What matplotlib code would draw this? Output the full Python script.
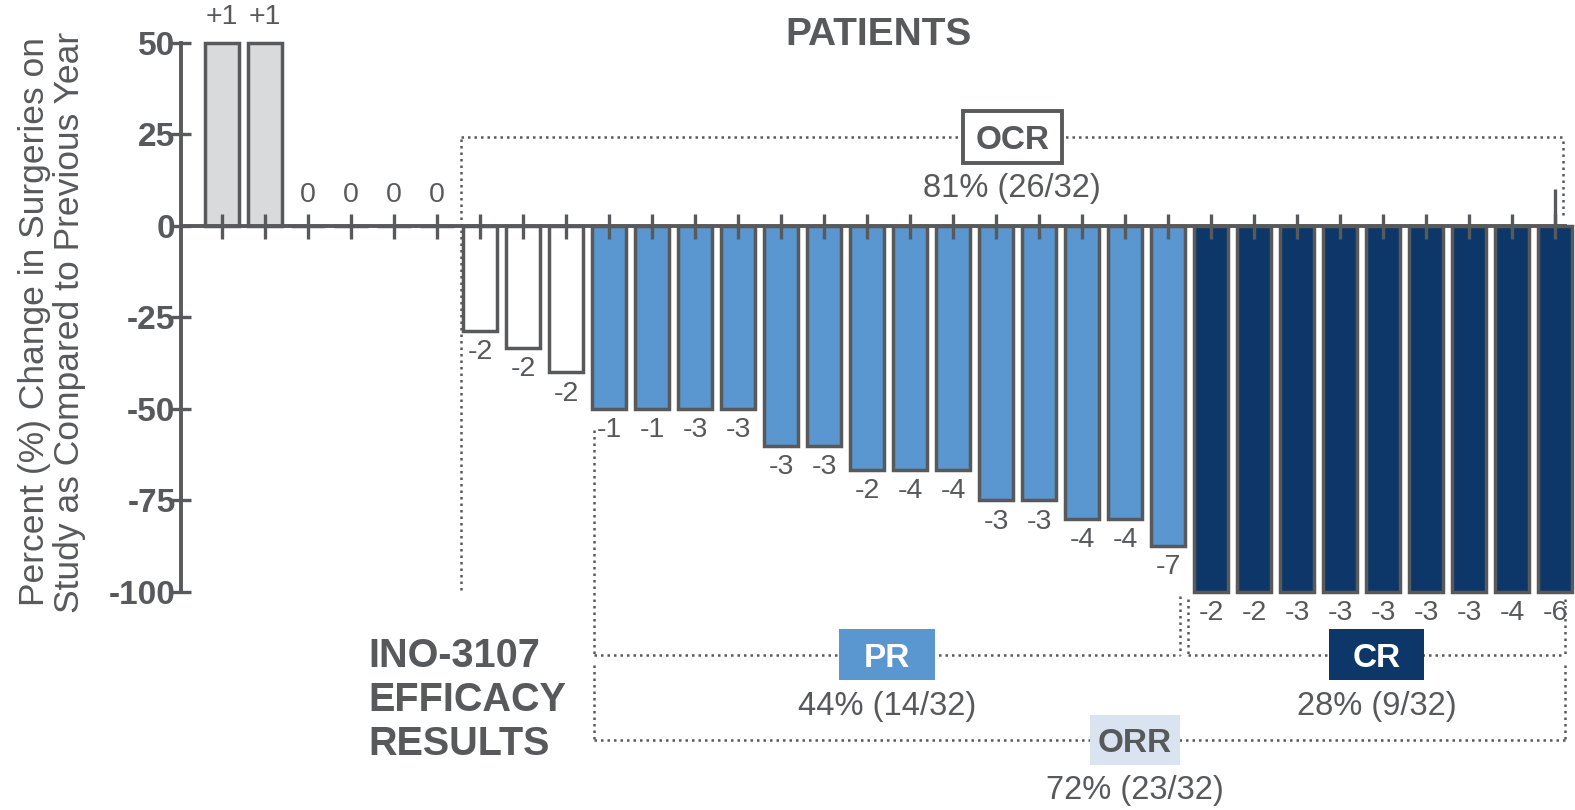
import matplotlib.pyplot as plt
from matplotlib.patches import Rectangle

plt.rcParams['font.family'] = ['Liberation Sans', 'DejaVu Sans']

GREY = '#58595b'

# percent change in surgeries, one bar per patient
pct_change = [50, 50, 0, 0, 0, 0,
              -28.6, -33.3, -40,
              -50, -50, -50, -50, -60, -60, -66.7, -66.7, -66.7,
              -75, -75, -80, -80, -87.5,
              -100, -100, -100, -100, -100, -100, -100, -100, -100]
# absolute change in number of surgeries (bar labels)
surgery_change = ['+1', '+1', '0', '0', '0', '0',
                  '-2', '-2', '-2',
                  '-1', '-1', '-3', '-3', '-3', '-3', '-2', '-4', '-4',
                  '-3', '-3', '-4', '-4', '-7',
                  '-2', '-2', '-3', '-3', '-3', '-3', '-3', '-4', '-6']
response = ['up'] * 2 + ['none'] * 4 + ['stable'] * 3 + ['PR'] * 14 + ['CR'] * 9

fill = {'up': '#d9dadc', 'none': 'white', 'stable': 'white',
        'PR': '#5a96cf', 'CR': '#0d3768'}

y_ticks = [-100, -75, -50, -25, 0, 25, 50]

# response groups: name, first bar, last bar, rate text
groups = ['OCR', 'PR', 'CR', 'ORR']
group_first = [6, 9, 23, 9]
group_last = [31, 22, 31, 31]
group_rate = ['81% (26/32)', '44% (14/32)', '28% (9/32)', '72% (23/32)']

fig = plt.figure(figsize=(15.75, 8.1), dpi=100)
ax = fig.add_axes([0, 0, 1, 1])
ax.set_xlim(-5.16, 31.46)
ax.set_ylim(-159.6, 61.75)

x = list(range(len(pct_change)))
ax.bar(x, pct_change, width=0.78, color=[fill[r] for r in response],
       edgecolor=GREY, linewidth=2.5)

# value labels
for xi, v, lab in zip(x, pct_change, surgery_change):
    if v >= 0:
        ax.annotate(lab, (xi, v), xytext=(0, 9 if v > 0 else 13),
                    textcoords='offset points', ha='center', va='bottom',
                    fontsize=20.5, color=GREY)
    else:
        ax.annotate(lab, (xi, v), xytext=(0, -6), textcoords='offset points',
                    ha='center', va='top', fontsize=20.5, color=GREY)

# axes styling
x_axis_left = -0.95
x_axis_right = 31.23
for s in ['top', 'right']:
    ax.spines[s].set_visible(False)
ax.spines['left'].set_position(('data', x_axis_left))
ax.spines['left'].set_bounds(-100, 50)
ax.spines['bottom'].set_position(('data', 0))
ax.spines['bottom'].set_bounds(x_axis_left, x_axis_right)
for s in ['left', 'bottom']:
    ax.spines[s].set_color(GREY)
    ax.spines[s].set_linewidth(2.8)

ax.set_yticks(y_ticks)
ax.set_yticklabels([str(t) for t in y_ticks], fontweight='bold')
ax.set_xticks(x)
ax.set_xticklabels([])
ax.tick_params(axis='both', direction='inout', width=2.4,
               color=GREY, labelcolor=GREY)
ax.tick_params(axis='x', length=18)
ax.tick_params(axis='y', length=14, labelsize=24, pad=-3)
ax.vlines(x[-1], 0, 10, color=GREY, lw=2.4)

ax.text(15.26, 52.2, 'PATIENTS', ha='center', va='center', fontsize=28,
        fontweight='bold', color=GREY)
ax.text(3.4, -129.5, 'INO-3107\nEFFICACY\nRESULTS', ha='left', va='center',
        fontsize=28.5, fontweight='bold', color=GREY, linespacing=1.2)

fig.text(0.033, 0.6025, 'Percent (%) Change in Surgeries on\n'
         'Study as Compared to Previous Year', rotation=90, ha='center',
         va='center', fontsize=25.5, color=GREY, linespacing=1.1)

# dotted brackets
dot = dict(color=GREY, lw=1.8, linestyle=(0, (1, 1.6)), clip_on=False)
line_y = {'OCR': 24.3, 'PR': -117.2, 'CR': -117.2, 'ORR': -140.4}
left_off = {'OCR': -0.44, 'PR': -0.35, 'CR': -0.53, 'ORR': -0.35}
right_off = {'OCR': 0.19, 'PR': 0.28, 'CR': 0.23, 'ORR': 0.23}
left_end = {'OCR': -99.5, 'PR': -55.7, 'CR': -102, 'ORR': -120}
right_end = {'OCR': 3.0, 'PR': -101, 'CR': -102, 'ORR': -120}
label_frac = {'OCR': 0.5, 'PR': 0.5, 'CR': 0.5, 'ORR': 0.557}
box_w = {'OCR': 2.3, 'PR': 2.23, 'CR': 2.2, 'ORR': 2.1}
box_h = {'OCR': 14.0, 'PR': 13.9, 'CR': 13.9, 'ORR': 13.7}
box_style = {
    'OCR': dict(fc='white', ec=GREY, lw=2.8, tc=GREY),
    'PR': dict(fc='#5a96cf', ec='#5a96cf', lw=0, tc='white'),
    'CR': dict(fc='#0d3768', ec='#0d3768', lw=0, tc='white'),
    'ORR': dict(fc='#dae4f1', ec='#dae4f1', lw=0, tc=GREY),
}

for g, f, l, rate in zip(groups, group_first, group_last, group_rate):
    x0 = f + left_off[g]
    x1 = l + right_off[g]
    y = line_y[g]
    ax.plot([x0, x1], [y, y], **dot)
    ax.plot([x0, x0], [left_end[g], y], **dot)
    ax.plot([x1, x1], [right_end[g], y], **dot)
    xc = x0 + (x1 - x0) * label_frac[g]
    st = box_style[g]
    ax.add_patch(Rectangle((xc - box_w[g] / 2, y - box_h[g] / 2), box_w[g],
                           box_h[g], fc=st['fc'], ec=st['ec'], lw=st['lw'],
                           zorder=4, clip_on=False))
    ax.text(xc, y, g, ha='center', va='center_baseline', fontsize=24,
            fontweight='bold', color=st['tc'], zorder=5)
    ax.text(xc, y - 14.0, rate, ha='center', va='center', fontsize=23.5,
            color=GREY)

plt.savefig('out.png', dpi=100)
